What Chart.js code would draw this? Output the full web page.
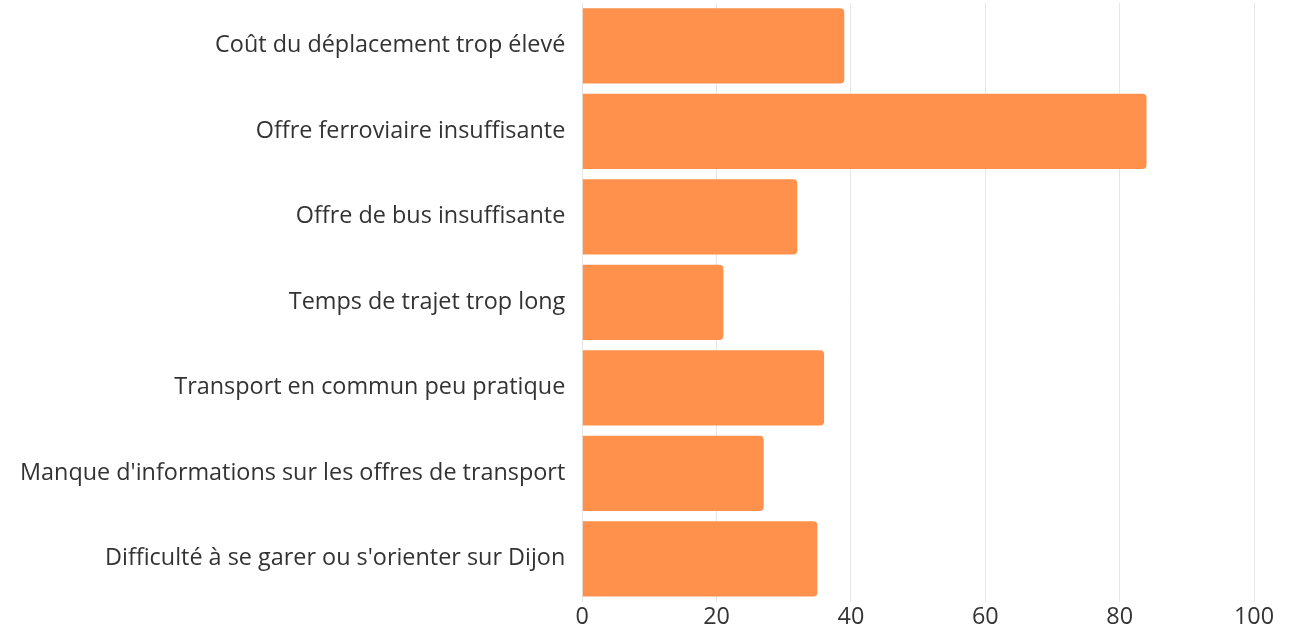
<!DOCTYPE html>
<html>
<head>
<meta charset="utf-8">
<script src="https://cdn.jsdelivr.net/npm/chart.js@4"></script>
<style>
  html, body { margin: 0; padding: 0; background: #fff; }
  #wrap { width: 1301px; height: 633px; position: relative; }
</style>
</head>
<body>
<div id="wrap"><canvas id="c" width="1301" height="633"></canvas></div>
<script>
const categories = [
  "Coût du déplacement trop élevé",
  "Offre ferroviaire insuffisante",
  "Offre de bus insuffisante",
  "Temps de trajet trop long",
  "Transport en commun peu pratique",
  "Manque d'informations sur les offres de transport",
  "Difficulté à se garer ou s'orienter sur Dijon"
];
const values = [39, 84, 32, 21, 36, 27, 35];
const xTicks = [0, 20, 40, 60, 80, 100];

new Chart(document.getElementById('c'), {
  type: 'bar',
  data: {
    labels: categories,
    datasets: [{
      data: values,
      backgroundColor: '#FF914D',
      borderRadius: 4,
      barPercentage: 0.88,
      categoryPercentage: 1.0
    }]
  },
  options: {
    indexAxis: 'y',
    responsive: false,
    animation: false,
    layout: { padding: { left: 20, right: 47, top: 3, bottom: 0 } },
    plugins: { legend: { display: false }, tooltip: { enabled: false } },
    scales: {
      x: {
        min: 0, max: 100,
        afterBuildTicks: (axis) => { axis.ticks = xTicks.map(v => ({ value: v })); },
        border: { display: false },
        grid: { color: '#e6e6e6', lineWidth: 1, drawTicks: false },
        ticks: { color: '#333', padding: 4, font: { family: 'Open Sans', size: 23.4, lineHeight: 1.0 } }
      },
      y: {
        border: { display: false },
        grid: { display: true, drawOnChartArea: false, drawTicks: true, tickLength: 17, color: 'rgba(0,0,0,0)' },
        ticks: { color: '#333', padding: 0, font: { family: 'Open Sans', size: 23.4, lineHeight: 0.2 } }
      }
    }
  }
});
</script>
</body>
</html>
